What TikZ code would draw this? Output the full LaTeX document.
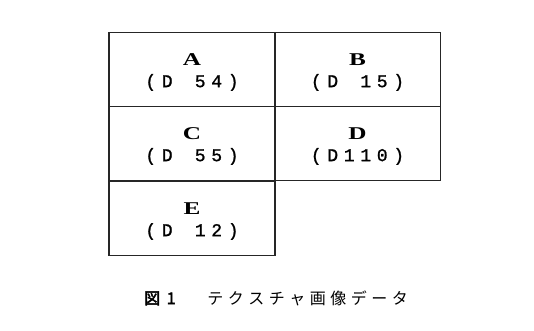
\documentclass[tikz,border=0pt]{standalone}
\usepackage{fontspec}
\setmainfont{Liberation Serif}
\newfontfamily\monof{Liberation Mono}[FakeBold=1.2]
\newfontfamily\cjk{Noto Sans CJK JP}
\newfontfamily\cjkb{Noto Sans CJK JP}[FakeBold=3]
\newcommand\cl[1]{\makebox[16.5pt]{#1}}
\newcommand\kc[1]{\makebox[20.5pt]{#1}}
\begin{document}
\begin{tikzpicture}[x=1pt,y=-1pt,
  cell/.style={draw=black!85, line width=1.8pt, minimum width=166pt, minimum height=74pt, inner sep=0pt},
  letter/.style={inner sep=0pt, font=\fontsize{18}{18}\selectfont\bfseries},
  code/.style={inner sep=0pt, font=\monof\fontsize{18}{18}\selectfont}]
\useasboundingbox (0,0) rectangle (534,331);
\node[cell] (A) at (192,69.5) {};
\node[cell] (B) at (357.5,69.5) {};
\node[cell] (C) at (192,143.5) {};
\node[cell] (D) at (357.5,143.5) {};
\node[cell] (E) at (192,218.5) {};
\foreach \n/\l/\b/\c/\d in {A/A/{}/5/4, B/B/{}/1/5, C/C/{}/5/5, D/D/1/1/0, E/E/{}/1/2}{
  \node[letter] (\n l) at ([yshift=10pt]\n.center) {\scalebox{1.4}[1]{\l}};
  \node[code] (\n c) at ([yshift=-13pt]\n.center) {\cl{(}\cl{D}\cl{\b}\cl{\c}\cl{\d}\cl{)}};
}
\node[inner sep=0pt, font=\fontsize{16}{16}\selectfont, anchor=west] (cap) at (142,298)
  {\cjkb\makebox[20pt]{図}\makebox[18pt]{1}\hspace{25pt}\cjk\kc{テ}\kc{ク}\kc{ス}\kc{チ}\kc{ャ}\kc{画}\kc{像}\kc{デ}\kc{ー}\kc{タ}};
\end{tikzpicture}
\end{document}
